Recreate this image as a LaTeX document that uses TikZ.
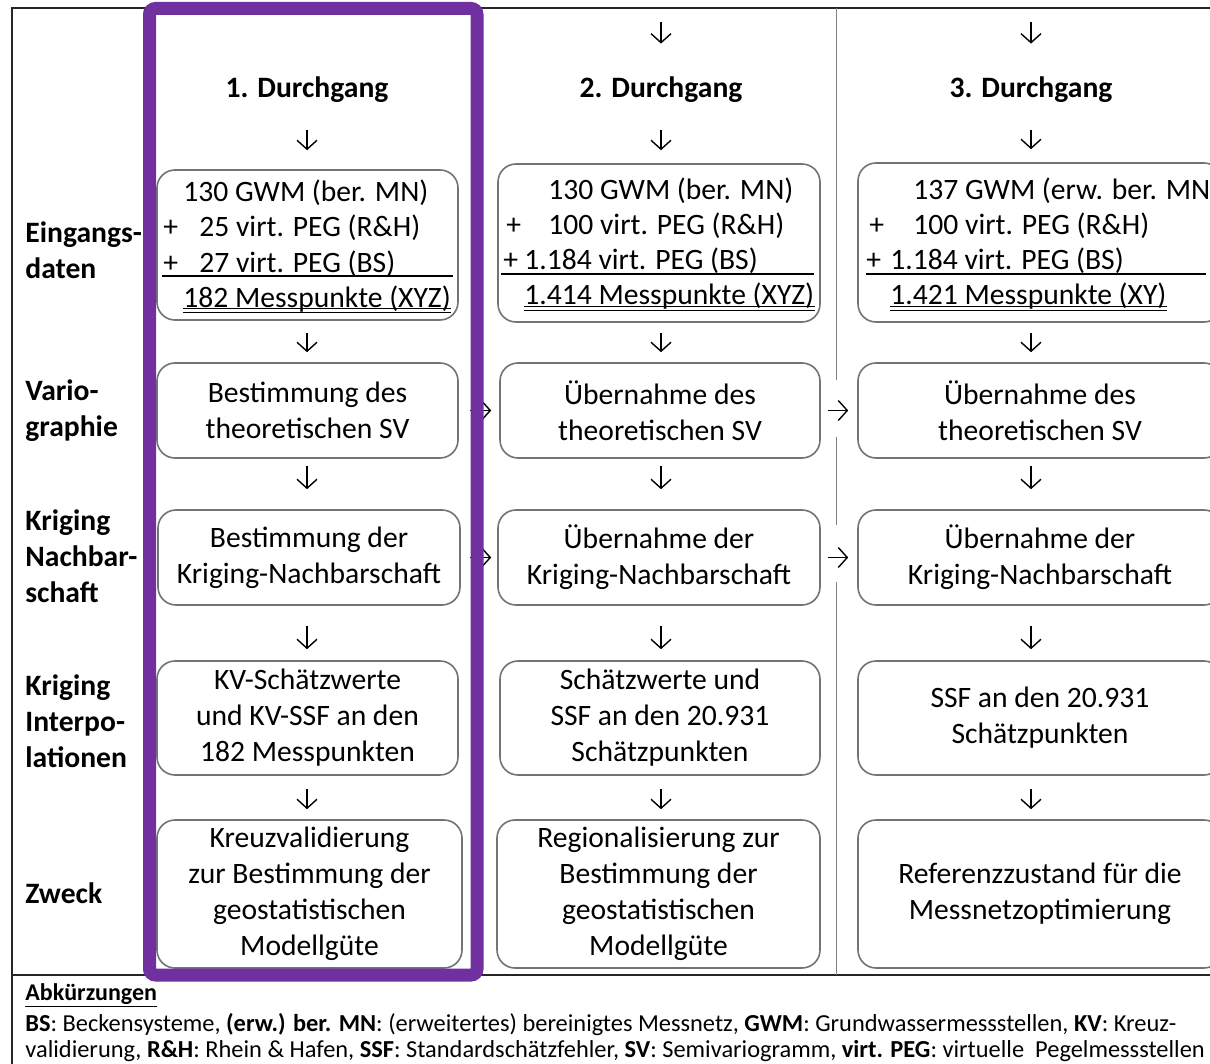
\documentclass[tikz,border=0pt]{standalone}
\usepackage{fontspec}
\setmainfont{Carlito}
\usetikzlibrary{arrows.meta}
\definecolor{lila}{HTML}{7030A0}

\tikzset{
  kasten/.style={draw=black!55, line width=0.8pt, rounded corners=9pt, align=center,
    inner sep=0pt, font=\fontsize{14.8pt}{18pt}\selectfont},
  titel/.style={font=\fontsize{14.8pt}{18pt}\selectfont\bfseries, inner sep=0pt,
    text height=10pt, text depth=3pt, anchor=base},
  zeilenkopf/.style={font=\fontsize{14.8pt}{18pt}\selectfont\bfseries, align=left,
    anchor=west, inner sep=0pt},
  zeile/.style={font=\fontsize{14.8pt}{18pt}\selectfont, anchor=base west, inner sep=0pt},
  pfeil/.style={-{Straight Barb[length=4.5pt,width=10pt]}, line width=0.7pt},
}

\begin{document}
\begin{tikzpicture}[x=0.5pt,y=-0.5pt]
    \useasboundingbox (0,0) rectangle (1210,1064);

    % Rahmen
    \draw[line width=1pt, black!85] (12,8) rectangle (1240,1090);
    \draw[line width=1pt, black!85] (12,975) -- (1240,975);
    \draw[line width=0.5pt, black!50] (836,8) -- (836,380) (836,437) -- (836,525) (836,582) -- (836,975);

    % Durchgaenge
    \node[titel] (hd1) at (307,98) {1. Durchgang};
    \node[titel] (hd2) at (661,98) {2. Durchgang};
    \node[titel] (hd3) at (1031,98) {3. Durchgang};
    \coordinate (top2) at (661,8);
    \coordinate (top3) at (1031,8);

    % Zeilenkoepfe
    \node[zeilenkopf] (lab1) at (25,250) {Eingangs-\\daten};
    \node[zeilenkopf] (lab2) at (25,411) {Vario-\\graphie};
    \node[zeilenkopf] (lab3) at (25,556) {Kriging\\Nachbar-\\schaft};
    \node[zeilenkopf] (lab4) at (25,721) {Kriging\\Interpo-\\lationen};
    \node[zeilenkopf] (lab5) at (25,893) {Zweck};

    % Eingangsdaten
    \node[kasten, minimum width=150.5pt, minimum height=75pt] (r1c1) at (307.5,245) {};
    \node[kasten, minimum width=161pt, minimum height=79pt] (r1c2) at (659,243) {};
    \node[kasten, minimum width=182pt, minimum height=79.5pt] (r1c3) at (1040,242.5) {};

    \node[zeile] (c1a) at (183,202) {130 GWM (ber. MN)};
    \node[zeile] (c1p1) at (163,237) {+};
    \node[zeile] (c1b) at (199,237) {25 virt. PEG (R\&H)};
    \node[zeile] (c1p2) at (163,272) {+};
    \node[zeile] (c1c) at (199,272) {27 virt. PEG (BS)};
    \node[zeile] (c1d) at (183,307) {182 Messpunkte (XYZ)};
    \draw[line width=0.6pt] (162,276) -- (453,276);
    \draw[line width=0.5pt] ([yshift=-1pt]c1d.base west) -- ([yshift=-1pt]c1d.base east);
    \draw[line width=0.5pt] ([yshift=-3pt]c1d.base west) -- ([yshift=-3pt]c1d.base east);

    \node[zeile] (c2a) at (548,200) {130 GWM (ber. MN)};
    \node[zeile] (c2p1) at (506,235) {+};
    \node[zeile] (c2b) at (548,235) {100 virt. PEG (R\&H)};
    \node[zeile] (c2p2) at (503,270) {+};
    \node[zeile] (c2c) at (524,270) {1.184 virt. PEG (BS)};
    \node[zeile] (c2d) at (524,305) {1.414 Messpunkte (XYZ)};
    \draw[line width=0.6pt] (501,274) -- (814,274);
    \draw[line width=0.5pt] ([yshift=-1pt]c2d.base west) -- ([yshift=-1pt]c2d.base east);
    \draw[line width=0.5pt] ([yshift=-3pt]c2d.base west) -- ([yshift=-3pt]c2d.base east);

    \node[zeile] (c3a) at (913,200) {137 GWM (erw. ber. MN)};
    \node[zeile] (c3p1) at (869,235) {+};
    \node[zeile] (c3b) at (913,235) {100 virt. PEG (R\&H)};
    \node[zeile] (c3p2) at (866,270) {+};
    \node[zeile] (c3c) at (890,270) {1.184 virt. PEG (BS)};
    \node[zeile] (c3d) at (890,305) {1.421 Messpunkte (XY)};
    \draw[line width=0.6pt] (866,274) -- (1206,274);
    \draw[line width=0.5pt] ([yshift=-1pt]c3d.base west) -- ([yshift=-1pt]c3d.base east);
    \draw[line width=0.5pt] ([yshift=-3pt]c3d.base west) -- ([yshift=-3pt]c3d.base east);

    % Variographie
    \node[kasten, minimum width=150.5pt, minimum height=47.5pt] (r2c1) at (307.5,410.5) {Bestimmung des\\theoretischen SV};
    \node[kasten, minimum width=160pt, minimum height=47.5pt] (r2c2) at (660,410.5) {Übernahme des\\theoretischen SV};
    \node[kasten, minimum width=182pt, minimum height=47.5pt] (r2c3) at (1040,410.5) {Übernahme des\\theoretischen SV};

    % Kriging-Nachbarschaft
    \node[kasten, minimum width=151pt, minimum height=47.5pt] (r3c1) at (309,557.5) {Bestimmung der\\Kriging-Nachbarschaft};
    \node[kasten, minimum width=161pt, minimum height=47.5pt] (r3c2) at (659,557.5) {Übernahme der\\Kriging-Nachbarschaft};
    \node[kasten, minimum width=182pt, minimum height=47.5pt] (r3c3) at (1040,557.5) {Übernahme der\\Kriging-Nachbarschaft};

    % Kriging-Interpolationen
    \node[kasten, minimum width=150.5pt, minimum height=57pt] (r4c1) at (307.5,718) {KV-Schätzwerte\\und KV-SSF an den\\182 Messpunkten};
    \node[kasten, minimum width=160pt, minimum height=57pt] (r4c2) at (660,718) {Schätzwerte und\\SSF an den 20.931\\Schätzpunkten};
    \node[kasten, minimum width=182pt, minimum height=57pt] (r4c3) at (1040,718) {SSF an den 20.931\\Schätzpunkten};

    % Zweck
    \node[kasten, minimum width=152.5pt, minimum height=74pt] (r5c1) at (309.5,894) {Kreuzvalidierung\\zur Bestimmung der\\geostatistischen\\Modellgüte};
    \node[kasten, minimum width=161.5pt, minimum height=74pt] (r5c2) at (658.5,894) {Regionalisierung zur\\Bestimmung der\\geostatistischen\\Modellgüte};
    \node[kasten, minimum width=182pt, minimum height=74pt] (r5c3) at (1040,894) {Referenzzustand für die\\Messnetzoptimierung};

    % Pfeile
    \draw[pfeil, shorten <=7pt, shorten >=17pt] (top2) -- (hd2.north);
    \draw[pfeil, shorten <=7pt, shorten >=17pt] (top3) -- (hd3.north);

    \draw[pfeil, shorten <=13pt, shorten >=9.5pt] (hd1.south) -- (r1c1.north -| hd1);
    \draw[pfeil, shorten <=13pt, shorten >=6.5pt] (hd2.south) -- (r1c2.north -| hd2);
    \draw[pfeil, shorten <=13pt, shorten >=6.5pt] (hd3.south) -- (r1c3.north -| hd3);

    \draw[pfeil, shorten <=6pt, shorten >=5pt] (r1c1.south -| hd1) -- (r2c1.north -| hd1);
    \draw[pfeil, shorten <=5pt, shorten >=5pt] (r1c2.south -| hd2) -- (r2c2.north -| hd2);
    \draw[pfeil, shorten <=5pt, shorten >=5pt] (r1c3.south -| hd3) -- (r2c3.north -| hd3);

    \draw[pfeil, shorten <=3.5pt, shorten >=10pt] (r2c1.south -| hd1) -- (r3c1.north -| hd1);
    \draw[pfeil, shorten <=3.5pt, shorten >=10pt] (r2c2.south -| hd2) -- (r3c2.north -| hd2);
    \draw[pfeil, shorten <=3.5pt, shorten >=10pt] (r2c3.south -| hd3) -- (r3c3.north -| hd3);

    \draw[pfeil, shorten <=10pt, shorten >=5.5pt] (r3c1.south -| hd1) -- (r4c1.north -| hd1);
    \draw[pfeil, shorten <=10pt, shorten >=5.5pt] (r3c2.south -| hd2) -- (r4c2.north -| hd2);
    \draw[pfeil, shorten <=10pt, shorten >=5.5pt] (r3c3.south -| hd3) -- (r4c3.north -| hd3);

    \draw[pfeil, shorten <=6.5pt, shorten >=5pt] (r4c1.south -| hd1) -- (r5c1.north -| hd1);
    \draw[pfeil, shorten <=6.5pt, shorten >=5pt] (r4c2.south -| hd2) -- (r5c2.north -| hd2);
    \draw[pfeil, shorten <=6.5pt, shorten >=5pt] (r4c3.south -| hd3) -- (r5c3.north -| hd3);

    \draw[pfeil, shorten <=5.5pt, shorten >=4pt] (r2c1.east) -- (r2c2.west);
    \draw[pfeil, shorten <=3.5pt, shorten >=4.5pt] (r2c2.east) -- (r2c3.west);
    \draw[pfeil, shorten <=4.5pt, shorten >=3pt] (r3c1.east) -- (r3c2.west);
    \draw[pfeil, shorten <=3.5pt, shorten >=4.5pt] (r3c2.east) -- (r3c3.west);

    % Erster Durchgang hervorgehoben
    \draw[lila, line width=6.5pt, rounded corners=3pt] (149.5,8.5) rectangle (477,975);

    % Abkuerzungen
    \node[anchor=base west, inner sep=0pt, font=\fontsize{12pt}{12.5pt}\selectfont\bfseries] (abk) at (25,1000) {\underline{Abkürzungen}};
    \node[anchor=base west, inner sep=0pt, font=\fontsize{12.2pt}{12.5pt}\selectfont] (abk1) at (25,1031)
        {\textbf{BS}: Beckensysteme, \textbf{(erw.) ber. MN}: (erweitertes) bereinigtes Messnetz, \textbf{GWM}: Grundwassermessstellen, \textbf{KV}: Kreuz-};
    \node[anchor=base west, inner sep=0pt, font=\fontsize{12.2pt}{12.5pt}\selectfont] (abk2) at (25,1057)
        {validierung, \textbf{R\&H}: Rhein \& Hafen, \textbf{SSF}: Standardschätzfehler, \textbf{SV}: Semivariogramm, \textbf{virt. PEG}: virtuelle\ \ Pegelmessstellen};
\end{tikzpicture}
\end{document}
